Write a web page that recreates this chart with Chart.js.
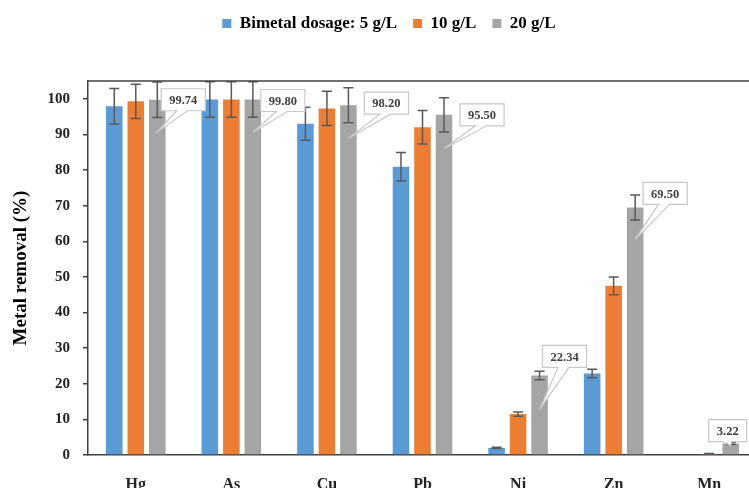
<!DOCTYPE html>
<html><head><meta charset="utf-8">
<script src="https://cdn.jsdelivr.net/npm/chart.js@4.4.1/dist/chart.umd.min.js"></script>
<style>html,body{margin:0;padding:0;overflow:hidden;background:#fff}</style>
</head><body>
<canvas id="c" width="778" height="488"></canvas>
<script>
const categories = ['Hg', 'As', 'Cu', 'Pb', 'Ni', 'Zn', 'Mn'];
const seriesNames = ['Bimetal dosage: 5 g/L', '10 g/L', '20 g/L'];
const dose5 = [97.9, 99.8, 93.0, 80.9, 2.0, 22.9, 0];
const dose10 = [99.3, 99.8, 97.3, 92.0, 11.5, 47.5, 0.3];
const dose20 = [99.74, 99.80, 98.20, 95.50, 22.34, 69.50, 3.22];
const err5 = [5.0, 5.0, 4.6, 4.0, 0.2, 1.2, 0];
const err10 = [4.8, 5.0, 4.8, 4.7, 0.6, 2.5, 0.1];
const err20 = [5.0, 5.0, 4.9, 4.8, 1.2, 3.5, 0.3];
const calloutLabels = dose20.map(v => v.toFixed(2));
const yMin = 0, yMax = 105, yStep = 10;

// callout styling: box centre offset from the bar top, and pointer tip offset
const calloutStyle = [
  {dx: 26, dy: 0, tip: 32}, {dx: 30, dy: 1, tip: 33}, {dx: 38, dy: -2, tip: 33},
  {dx: 38, dy: 0, tip: 34}, {dx: 25, dy: -19, tip: 34}, {dx: 30, dy: -14, tip: 32},
  {dx: -3, dy: -13, tip: 2}
];

const FONT = "'Liberation Serif', 'Times New Roman', serif";
const AXIS = '#404040';

const legendSpace = {
  id: 'legendSpace',
  beforeLayout(chart) {
    const lg = chart.legend;
    if (lg && !lg._patched) {
      const f = lg.fit.bind(lg);
      lg.fit = function () { f(); this.height = 81; };
      lg._patched = true;
    }
  },
  afterLayout(chart) {
    const lg = chart.legend;
    if (lg) { lg.top -= 1; }
  }
};

const topBorder = {
  id: 'topBorder',
  afterDraw(chart) {
    const a = chart.chartArea, ctx = chart.ctx;
    ctx.save();
    ctx.strokeStyle = AXIS; ctx.lineWidth = 1.5;
    ctx.beginPath(); ctx.moveTo(a.left, a.top); ctx.lineTo(a.right, a.top); ctx.stroke();
    ctx.restore();
  }
};

const errBars = {
  id: 'errBars',
  afterDatasetsDraw(chart) {
    const ctx = chart.ctx, y = chart.scales.y, a = chart.chartArea;
    ctx.save();
    ctx.beginPath(); ctx.rect(a.left, a.top - 1, a.right - a.left, a.bottom - a.top + 1); ctx.clip();
    ctx.strokeStyle = '#595959'; ctx.lineWidth = 1.5;
    chart.data.datasets.forEach((ds, i) => {
      const meta = chart.getDatasetMeta(i);
      meta.data.forEach((bar, j) => {
        const e = ds.errors[j];
        if (!e) return;
        const v = ds.data[j];
        const yt = y.getPixelForValue(v + e), yb = y.getPixelForValue(v - e), x = bar.x;
        ctx.beginPath();
        ctx.moveTo(x, yt); ctx.lineTo(x, yb);
        ctx.moveTo(x - 5, yt); ctx.lineTo(x + 5, yt);
        ctx.moveTo(x - 5, yb); ctx.lineTo(x + 5, yb);
        ctx.stroke();
      });
    });
    ctx.restore();
  }
};

const callouts = {
  id: 'callouts',
  afterDraw(chart) {
    const ctx = chart.ctx;
    const meta = chart.getDatasetMeta(2);
    ctx.save();
    ctx.font = "bold 12.5px " + FONT;
    ctx.textAlign = 'center'; ctx.textBaseline = 'middle';
    meta.data.forEach((bar, j) => {
      const s = calloutStyle[j];
      const txt = calloutLabels[j];
      const w = ctx.measureText(txt).width + 16, h = 22;
      const cx = bar.x + s.dx, cy = bar.y + s.dy;
      const l = cx - w / 2, t = cy - h / 2, r = cx + w / 2, b = cy + h / 2;
      const tipX = bar.x, tipY = bar.y + s.tip;
      const wl = l + w * 0.35, wr = l + w * 0.6;
      ctx.beginPath();
      ctx.moveTo(l, t); ctx.lineTo(r, t); ctx.lineTo(r, b);
      ctx.lineTo(wr, b); ctx.lineTo(tipX, tipY); ctx.lineTo(wl, b);
      ctx.lineTo(l, b); ctx.closePath();
      ctx.fillStyle = '#fff'; ctx.fill();
      ctx.strokeStyle = '#c8c8c8'; ctx.lineWidth = 1.2; ctx.stroke();
      ctx.fillStyle = '#404040';
      ctx.fillText(txt, cx, cy + 1);
    });
    ctx.restore();
  }
};

new Chart(document.getElementById('c'), {
  type: 'bar',
  data: {
    labels: categories,
    datasets: [
      {label: seriesNames[0], data: dose5, errors: err5, backgroundColor: '#5B9BD5'},
      {label: seriesNames[1], data: dose10, errors: err10, backgroundColor: '#ED7D31'},
      {label: seriesNames[2], data: dose20, errors: err20, backgroundColor: '#A5A5A5'}
    ]
  },
  options: {
    responsive: false,
    animation: false,
    devicePixelRatio: 1,
    layout: {padding: 0},
    datasets: {bar: {categoryPercentage: 0.675, barPercentage: 0.77}},
    plugins: {
      legend: {
        position: 'top',
        labels: {boxWidth: 9, boxHeight: 9, padding: 16, color: '#000', font: {family: FONT, size: 17, weight: 'bold'}}
      },
      tooltip: {enabled: false}
    },
    scales: {
      x: {
        grid: {display: false},
        border: {display: true, color: AXIS, width: 1.5},
        ticks: {color: '#222', padding: 12, font: {family: FONT, size: 16, weight: 'bold'}},
        afterFit(s) { s.height = 33; }
      },
      y: {
        min: yMin, max: yMax,
        grid: {display: true, drawOnChartArea: false, drawTicks: true, tickLength: 5, color: AXIS, lineWidth: 1.5},
        border: {display: true, color: AXIS, width: 1.5},
        ticks: {stepSize: yStep, includeBounds: false, color: '#222', padding: 13, font: {family: FONT, size: 15, weight: 'bold'}},
        title: {display: true, text: 'Metal removal (%)', color: '#000', padding: {top: 10, bottom: 0}, font: {family: FONT, size: 19, weight: 'bold'}},
        afterFit(s) { s.width = 88; }
      },
      y2: {
        position: 'right', display: true,
        grid: {display: false}, ticks: {display: false}, border: {display: false},
        afterFit(s) { s.width = 21; }
      }
    }
  },
  plugins: [legendSpace, errBars, topBorder, callouts]
});
</script>
</body></html>
